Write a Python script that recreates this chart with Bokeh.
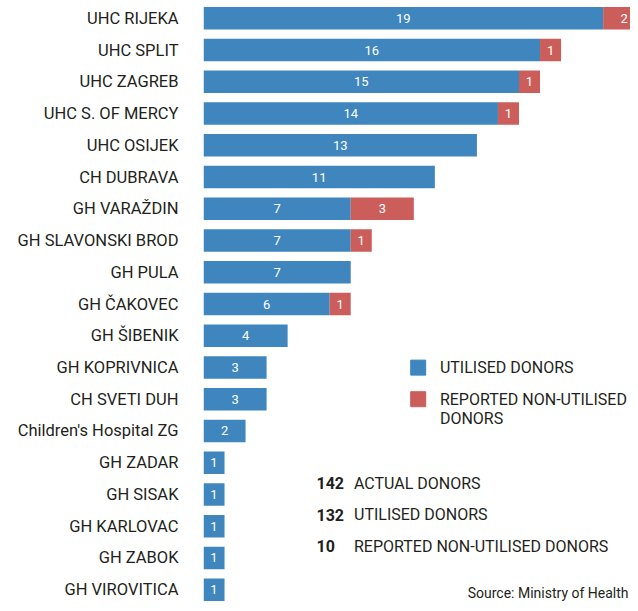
from bokeh.plotting import figure
from bokeh.models import Range1d, FixedTicker, ColumnDataSource
from bokeh.core.properties import value
from bokeh.embed import file_html
from bokeh.resources import INLINE

hospitals = ["UHC RIJEKA", "UHC SPLIT", "UHC ZAGREB", "UHC S. OF MERCY", "UHC OSIJEK",
             "CH DUBRAVA", "GH VARAŽDIN", "GH SLAVONSKI BROD", "GH PULA", "GH ČAKOVEC",
             "GH ŠIBENIK", "GH KOPRIVNICA", "CH SVETI DUH", "Children's Hospital ZG",
             "GH ZADAR", "GH SISAK", "GH KARLOVAC", "GH ZABOK", "GH VIROVITICA"]
utilised = [19, 16, 15, 14, 13, 11, 7, 7, 7, 6, 4, 3, 3, 2, 1, 1, 1, 1, 1]
non_utilised = [2, 1, 1, 1, 0, 0, 3, 1, 0, 1, 0, 0, 0, 0, 0, 0, 0, 0, 0]

legend_labels = ["UTILISED DONORS", "REPORTED NON-UTILISED", "DONORS"]
total_labels = ["ACTUAL DONORS", "UTILISED DONORS", "REPORTED NON-UTILISED DONORS"]
source_text = "Source: Ministry of Health"

BLUE = "#3F86BF"
RED = "#CB5E5A"
TXT = "#231F20"
FONT = "Roboto"

W, H = 630, 603
SX = W / 638        # fit the 638x611 design into the 630x603 figure
SY = H / 611
LEFT = round(206 * SX)   # frame left inside figure
K = 21.3 * SX            # px per donor
ROW = 32.17 * SY         # px per row
TOP_OFF = 18 * SY        # px from frame top to first row centre

x_end = (W - LEFT) / K
y_top = -TOP_OFF / ROW
y_bot = y_top + H / ROW

def dx(px):
    return (px * SX - LEFT) / K

def dy(py):
    return (py * SY - TOP_OFF) / ROW

rows = list(range(len(hospitals)))
totals = [u + n for u, n in zip(utilised, non_utilised)]

src = ColumnDataSource(dict(row=rows, u=utilised,
                            ulab=[str(v) for v in utilised],
                            ux=[v / 2 for v in utilised]))
red_idx = [i for i in rows if non_utilised[i] > 0]
rsrc = ColumnDataSource(dict(row=[rows[i] for i in red_idx],
                             u=[utilised[i] for i in red_idx],
                             t=[totals[i] for i in red_idx],
                             nx=[utilised[i] + non_utilised[i] / 2 for i in red_idx],
                             nlab=[str(non_utilised[i]) for i in red_idx]))

p = figure(width=W, height=H, output_backend="svg", toolbar_location=None,
           x_range=Range1d(0, x_end), y_range=Range1d(y_bot, y_top),
           x_axis_location=None, min_border_left=LEFT, min_border_right=0,
           min_border_top=0, min_border_bottom=0)
p.outline_line_color = None
p.xgrid.visible = False
p.ygrid.visible = False
p.background_fill_color = "white"

ax = p.yaxis[0]
ax.ticker = FixedTicker(ticks=rows)
ax.major_label_overrides = {i: h for i, h in enumerate(hospitals)}
ax.axis_line_color = None
ax.major_tick_line_color = None
ax.minor_tick_line_color = None
ax.major_tick_out = 0
ax.major_label_standoff = 25
ax.major_label_text_font = FONT
ax.major_label_text_font_size = "16.5px"
ax.major_label_text_color = TXT

p.hbar(y="row", left=0, right="u", height=0.71, fill_color=BLUE, line_color=None, source=src)
p.hbar(y="row", left="u", right="t", height=0.71, fill_color=RED, line_color=None, source=rsrc)

p.text(x="ux", y="row", text="ulab", source=src, text_align="center",
       text_baseline="middle", text_color="white", text_font=value(FONT),
       text_font_size="13px")
p.text(x="nx", y="row", text="nlab", source=rsrc, text_align="center",
       text_baseline="middle", text_color="white", text_font=value(FONT),
       text_font_size="13px")

# legend
p.scatter(x=[dx(423), dx(423)], y=[dy(372), dy(404)], marker="square", size=15,
          color=[BLUE, RED])
p.text(x=[dx(445)] * 3, y=[dy(372), dy(404), dy(424)], text=legend_labels,
       text_baseline="middle", text_color=TXT, text_font=value(FONT),
       text_font_size="16px")

# totals
total_values = [sum(totals), sum(utilised), sum(non_utilised)]
ty = [dy(489), dy(521), dy(553)]
p.text(x=[dx(320)] * 3, y=ty, text=[str(v) for v in total_values],
       text_baseline="middle", text_color=TXT, text_font=value(FONT),
       text_font_size="16px", text_font_style="bold")
p.text(x=[dx(358)] * 3, y=ty, text=total_labels,
       text_baseline="middle", text_color=TXT, text_font=value(FONT),
       text_font_size="16px")

p.text(x=[dx(636)], y=[dy(600)], text=[source_text], text_align="right",
       text_baseline="middle", text_color=TXT, text_font=value(FONT),
       text_font_size="14px")

open("out.html", "w").write(file_html(p, INLINE))
